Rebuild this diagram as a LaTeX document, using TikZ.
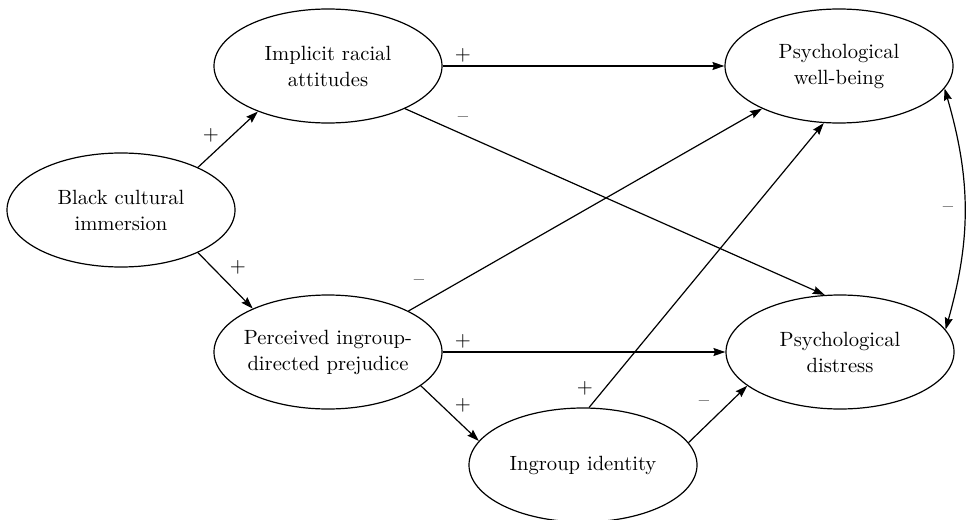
\documentclass[tikz,border=0pt]{standalone}
\usetikzlibrary{arrows.meta,shapes.geometric}
\begin{document}
\begin{tikzpicture}[x=0.5pt,y=-0.5pt,
  >={Stealth[length=6pt,width=4pt,inset=0.8pt]},
  var/.style={draw,ellipse,line width=0.6pt,minimum width=114pt,minimum height=57pt,inner xsep=-2pt,inner ysep=0pt,align=center,font=\fontsize{10.3}{13}\selectfont},
  link/.style={->,line width=0.6pt},
  sign/.style={inner sep=0pt,font=\fontsize{10.3}{13}\selectfont}]
\useasboundingbox (0,0) rectangle (967,519);
% variables
\node[var] (bci) at (121,210) {Black cultural\\immersion};
\node[var] (ira) at (328,66) {Implicit racial\\attitudes};
\node[var] (pidp) at (328,352) {Perceived ingroup-\\directed prejudice};
\node[var] (ii) at (583,465) {Ingroup identity};
\node[var] (pwb) at (839,66) {Psychological\\well-being};
\node[var] (pd) at (840,352) {Psychological\\distress};
% paths
\draw[link] (bci.29) -- (ira.213);
\draw[link] (bci.-29) -- (pidp.150);
\draw[link] (ira.east) -- (pwb.west);
\draw[link] (ira.-29) -- (pd.105);
\draw[link] (pidp.27) -- (pwb.209);
\draw[link] (pidp.east) -- (pd.west);
\draw[link] (pidp.-20) -- (ii.167);
\draw[link] (ii.84) -- (pwb.255);
\draw[link] (ii.12) -- (pd.200);
\draw[<->,line width=0.6pt] (pwb.-12) to[bend left=16] (pd.12);
% signs
\node[sign] (s1) at (211,135) {+};
\node[sign] (s2) at (238,267) {+};
\node[sign] (s3) at (463,55) {+};
\node[sign] (s4) at (463,120) {\textendash};
\node[sign] (s5) at (419,283) {\textendash};
\node[sign] (s6) at (463,341) {+};
\node[sign] (s7) at (463,405) {+};
\node[sign] (s8) at (585,388) {+};
\node[sign] (s9) at (704,404) {\textendash};
\node[sign] (s10) at (948,210) {\textendash};
\end{tikzpicture}
\end{document}
